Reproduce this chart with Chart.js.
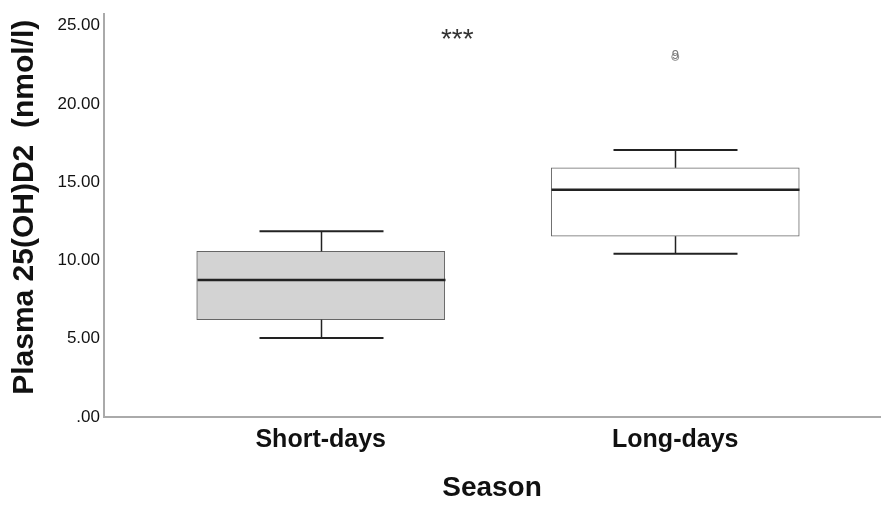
<!DOCTYPE html>
<html>
<head>
<meta charset="utf-8">
<script src="https://cdn.jsdelivr.net/npm/chart.js@4"></script>
<style>
  html, body { margin: 0; padding: 0; background: #fff; overflow: hidden; }
  canvas { display: block; }
</style>
</head>
<body>
<canvas id="box-chart" width="885" height="505"></canvas>
<script>
const categories = ['Short-days', 'Long-days'];
const xPositions = [1, 2];
const whiskerLow = [5.05, 10.43];
const q1 = [6.22, 11.55];
const medians = [8.75, 14.51];
const q3 = [10.58, 15.92];
const whiskerHigh = [11.87, 17.06];
const outlierX = [2];
const outlierY = [23.0];
const outlierLabels = ['9'];
const yTicks = [0, 5, 10, 15, 20, 25];
const sigText = '***';
const sigX = 1.385;
const sigY = 24.15;

const boxFills = ['#d3d3d3', '#ffffff'];
const boxPx = 248;
const capPx = 124;
const fontFamily = '"Liberation Sans", Arial, sans-serif';

// whiskers, caps, medians and annotations, all placed through the scales
const boxExtras = {
  id: 'box-extras',
  afterDatasetsDraw(chart) {
    const {ctx, scales: {x, y}} = chart;
    ctx.save();
    ctx.strokeStyle = '#222';
    for (let i = 0; i < categories.length; i++) {
      const px = Math.round(x.getPixelForValue(xPositions[i])) + 0.5;
      const line = (x0, y0, x1, y1, w) => {
        ctx.lineWidth = w;
        ctx.beginPath();
        ctx.moveTo(x0, y0);
        ctx.lineTo(x1, y1);
        ctx.stroke();
      };
      line(px, y.getPixelForValue(q3[i]), px, y.getPixelForValue(whiskerHigh[i]), 1.5);
      line(px, y.getPixelForValue(q1[i]), px, y.getPixelForValue(whiskerLow[i]), 1.5);
      line(px - capPx / 2, y.getPixelForValue(whiskerHigh[i]), px + capPx / 2, y.getPixelForValue(whiskerHigh[i]), 2);
      line(px - capPx / 2, y.getPixelForValue(whiskerLow[i]), px + capPx / 2, y.getPixelForValue(whiskerLow[i]), 2);
      line(px - boxPx / 2, y.getPixelForValue(medians[i]), px + boxPx / 2, y.getPixelForValue(medians[i]), 2.5);
    }
    ctx.fillStyle = '#777';
    ctx.font = '13px ' + fontFamily;
    ctx.textAlign = 'center';
    ctx.textBaseline = 'middle';
    for (let i = 0; i < outlierX.length; i++) {
      ctx.fillText(outlierLabels[i], x.getPixelForValue(outlierX[i]), y.getPixelForValue(outlierY[i]) - 2);
    }
    ctx.fillStyle = '#333';
    ctx.font = '28px ' + fontFamily;
    ctx.fillText(sigText, x.getPixelForValue(sigX), y.getPixelForValue(sigY) + 1);
    ctx.restore();
  }
};

new Chart(document.getElementById('box-chart').getContext('2d'), {
  type: 'bar',
  data: {
    datasets: [{
      label: 'box',
      data: xPositions.map((v, i) => ({x: v, y: [q1[i], q3[i]]})),
      backgroundColor: boxFills,
      borderColor: '#666',
      borderWidth: 1,
      borderSkipped: false,
      barThickness: boxPx
    }, {
      type: 'scatter',
      label: 'outliers',
      data: outlierX.map((v, i) => ({x: v, y: outlierY[i]})),
      pointRadius: 3.5,
      pointStyle: 'circle',
      backgroundColor: 'rgba(0,0,0,0)',
      borderColor: '#888',
      borderWidth: 1
    }]
  },
  options: {
    responsive: false,
    animation: false,
    layout: {padding: {top: 10, right: 0, left: 0, bottom: 0}},
    plugins: {legend: {display: false}, tooltip: {enabled: false}},
    scales: {
      x: {
        type: 'linear',
        offset: false,
        min: 0.3887,
        max: 2.5775,
        afterBuildTicks: scale => { scale.ticks = xPositions.map(v => ({value: v})); },
        afterFit: scale => { scale.height = 88; },
        grid: {display: false, drawTicks: false, offset: false},
        border: {color: '#aaa', width: 2},
        ticks: {
          padding: 8,
          color: '#111',
          font: {family: fontFamily, size: 25, weight: 'bold'},
          callback: v => categories[xPositions.indexOf(v)]
        },
        title: {
          display: true,
          text: 'Season',
          color: '#111',
          font: {family: fontFamily, size: 28, weight: 'bold'},
          padding: {top: 0, bottom: 0}
        }
      },
      y: {
        min: 0,
        max: 25.73,
        afterBuildTicks: scale => { scale.ticks = yTicks.map(v => ({value: v})); },
        afterFit: scale => { scale.width = 104; },
        grid: {display: false, drawTicks: false},
        border: {color: '#aaa', width: 2},
        ticks: {
          padding: 4,
          color: '#111',
          font: {family: fontFamily, size: 17},
          callback: v => v === 0 ? '.00' : v.toFixed(2)
        },
        title: {
          display: true,
          text: '  Plasma 25(OH)D2  (nmol/l)',
          color: '#111',
          font: {family: fontFamily, size: 30, weight: 'bold'},
          padding: {top: 7, bottom: 0}
        }
      }
    }
  },
  plugins: [boxExtras]
});
</script>
</body>
</html>
